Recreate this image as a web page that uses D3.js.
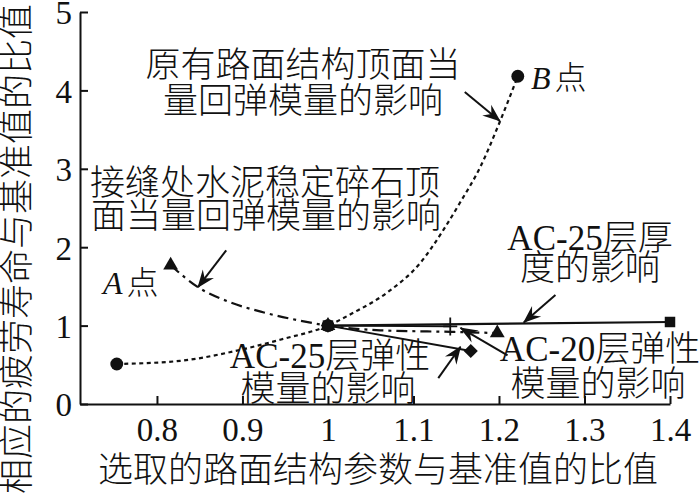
<!DOCTYPE html>
<html>
<head>
<meta charset="utf-8">
<script src="https://cdn.jsdelivr.net/npm/d3@7/dist/d3.min.js"></script>
<style>
  body { margin: 0; background: #fff; }
  text { font-family: "Liberation Serif", "Noto Sans CJK SC", serif; fill: #111; }
  .cjk { font-weight: 300; }
</style>
</head>
<body>
<div id="chart"></div>
<script>

// series (x = ratio of parameter, y = ratio of fatigue life)
var baseX = [0.753, 0.827, 0.885, 0.944, 1.0, 1.029, 1.069, 1.108, 1.135, 1.154, 1.178, 1.201, 1.222];
var baseY = [0.51, 0.55, 0.66, 0.82, 1.0, 1.16, 1.42, 1.80, 2.22, 2.56, 3.02, 3.60, 4.18];
var baseMarks = [0, 4, 12];   // indexes with a dot

var jointX = [0.816, 0.848, 0.885, 0.924, 0.964, 1.0, 1.061, 1.144, 1.198];
var jointY = [1.77, 1.49, 1.30, 1.17, 1.07, 1.0, 0.94, 0.92, 0.905];
var jointMarks = [0, 5, 8];

var ac25hX = [1.0, 1.4];
var ac25hY = [1.0, 1.046];

var ac25mX = [1.0, 1.167];
var ac25mY = [1.0, 0.676];

var ac20mX = [1.0, 1.143];
var ac20mY = [1.0, 0.99];

var xTicks = [0.8, 0.9, 1.0, 1.1, 1.2, 1.3, 1.4];
var yTicks = [0, 1, 2, 3, 4, 5];

var xTitle = "选取的路面结构参数与基准值的比值";
var yTitle = "相应的疲劳寿命与基准值的比值";

// set the dimensions
var width = 700, height = 498;

var svg = d3.select("#chart")
  .append("svg")
    .attr("width", width)
    .attr("height", height);

var x = d3.scaleLinear().domain([0.71, 1.4]).range([80, 670]);
var y = d3.scaleLinear().domain([0, 5]).range([404, 12]);

// arrow head
svg.append("defs").append("marker")
    .attr("id", "head")
    .attr("markerUnits", "userSpaceOnUse")
    .attr("viewBox", "-18 -8 20 16")
    .attr("markerWidth", 20)
    .attr("markerHeight", 16)
    .attr("refX", 0)
    .attr("refY", 0)
    .attr("orient", "auto")
  .append("path")
    .attr("d", "M1,0 L-17,-7 L-11,0 L-17,7 Z")
    .attr("fill", "#111");

// axes
var xAxis = svg.append("g")
    .attr("transform", "translate(0," + y(0) + ")")
    .call(d3.axisBottom(x).tickValues(xTicks).tickFormat(d3.format("~g"))
      .tickSizeInner(-8).tickSizeOuter(0).tickPadding(14));
var yAxis = svg.append("g")
    .attr("transform", "translate(" + x(0.71) + ",0)")
    .call(d3.axisLeft(y).tickValues(yTicks).tickFormat(d3.format("d"))
      .tickSizeInner(-8).tickSizeOuter(0).tickPadding(8));

[xAxis, yAxis].forEach(function(a) {
  a.select(".domain").attr("stroke", "#111").attr("stroke-width", 2);
  a.selectAll(".tick line").attr("stroke", "#111").attr("stroke-width", 2);
  a.selectAll(".tick text")
    .style("font-family", "Liberation Serif")
    .style("font-size", "33px")
    .attr("fill", "#111");
});
yAxis.selectAll(".tick text").attr("dy", "0.36em");

// axis titles
svg.append("text")
    .attr("class", "cjk")
    .attr("x", 378).attr("y", 482)
    .attr("text-anchor", "middle")
    .style("font-size", "35px")
    .text(xTitle);
svg.append("text")
    .attr("class", "cjk")
    .attr("transform", "translate(29,249) rotate(-90)")
    .attr("text-anchor", "middle")
    .style("font-size", "35px")
    .text(yTitle);

function pts(xs, ys) { return xs.map(function(d, i) { return [d, ys[i]]; }); }

var line = d3.line()
    .x(function(d) { return x(d[0]); })
    .y(function(d) { return y(d[1]); })
    .curve(d3.curveMonotoneX);

var straight = d3.line()
    .x(function(d) { return x(d[0]); })
    .y(function(d) { return y(d[1]); });

// lines
svg.append("path")
    .attr("d", line(pts(baseX, baseY)))
    .attr("fill", "none").attr("stroke", "#111")
    .attr("stroke-width", 2.2).attr("stroke-dasharray", "4,3.5");
svg.append("path")
    .attr("d", line(pts(jointX, jointY)))
    .attr("fill", "none").attr("stroke", "#111")
    .attr("stroke-width", 2.2).attr("stroke-dasharray", "11,5,3,5");
svg.append("path")
    .attr("d", straight(pts(ac25hX, ac25hY)))
    .attr("fill", "none").attr("stroke", "#111").attr("stroke-width", 2.2);
svg.append("path")
    .attr("d", straight(pts(ac25mX, ac25mY)))
    .attr("fill", "none").attr("stroke", "#111").attr("stroke-width", 1.8);
svg.append("path")
    .attr("d", straight(pts(ac20mX, ac20mY)))
    .attr("fill", "none").attr("stroke", "#111").attr("stroke-width", 1.8);

// markers
function marks(data, type, size, rot) {
  svg.selectAll(null)
    .data(data)
    .enter()
    .append("path")
      .attr("d", d3.symbol().type(type).size(size))
      .attr("transform", function(d) {
        return "translate(" + x(d[0]) + "," + y(d[1]) + ") rotate(" + (rot || 0) + ")";
      })
      .attr("fill", "#111");
}
marks(baseMarks.map(function(i) { return [baseX[i], baseY[i]]; }), d3.symbolCircle, 130);
marks(jointMarks.map(function(i) { return [jointX[i], jointY[i]]; }), d3.symbolTriangle, 95);
marks(pts(ac25hX, ac25hY), d3.symbolSquare, 110);
marks(pts(ac25mX, ac25mY), d3.symbolSquare, 100, 45);

// cross marker of the AC-20 series
svg.selectAll(null)
  .data(pts(ac20mX, ac20mY).slice(1))
  .enter()
  .append("path")
    .attr("d", function(d) {
      var cx = x(d[0]), cy = y(d[1]);
      return "M" + cx + "," + (cy - 9) + "V" + (cy + 9) + "M" + (cx - 7) + "," + cy + "H" + (cx + 7);
    })
    .attr("stroke", "#111").attr("stroke-width", 1.8);

// annotation arrows, tail -> tip in data units
var arrows = [
  [[1.160, 3.98], [1.201, 3.61]],
  [[0.881, 1.96], [0.848, 1.49]],
  [[1.266, 1.39], [1.229, 1.04]],
  [[1.129, 0.33], [1.155, 0.73]],
  [[1.210, 0.62], [1.155, 0.97]]
];
svg.selectAll(null)
  .data(arrows)
  .enter()
  .append("line")
    .attr("x1", function(d) { return x(d[0][0]); })
    .attr("y1", function(d) { return y(d[0][1]); })
    .attr("x2", function(d) { return x(d[1][0]); })
    .attr("y2", function(d) { return y(d[1][1]); })
    .attr("stroke", "#111").attr("stroke-width", 2)
    .attr("marker-end", "url(#head)");

// annotation texts
var notes = [
  {x: 303, y: 77, t: "原有路面结构顶面当"},
  {x: 303, y: 113, t: "量回弹模量的影响"},
  {x: 265, y: 195, t: "接缝处水泥稳定碎石顶"},
  {x: 266, y: 228, t: "面当量回弹模量的影响"},
  {x: 590, y: 250, t: "AC-25层厚"},
  {x: 590, y: 280, t: "度的影响"},
  {x: 330, y: 368, t: "AC-25层弹性"},
  {x: 328, y: 401, t: "模量的影响"},
  {x: 600, y: 361, t: "AC-20层弹性"},
  {x: 598, y: 396, t: "模量的影响"}
];
svg.selectAll(null)
  .data(notes)
  .enter()
  .append("text")
    .attr("class", "cjk")
    .attr("x", function(d) { return d.x; })
    .attr("y", function(d) { return d.y; })
    .attr("text-anchor", "middle")
    .style("font-size", "35px")
    .text(function(d) { return d.t; });

// point names
var pointNames = [
  {x: 103, y: 294, n: "A"},
  {x: 531, y: 89, n: "B"}
];
var pn = svg.selectAll(null)
  .data(pointNames)
  .enter()
  .append("text")
    .attr("x", function(d) { return d.x; })
    .attr("y", function(d) { return d.y; })
    .style("font-size", "32px");
pn.append("tspan").style("font-style", "italic").text(function(d) { return d.n; });
pn.append("tspan").attr("class", "cjk").attr("dx", 4).text("点");

</script>
</body>
</html>
